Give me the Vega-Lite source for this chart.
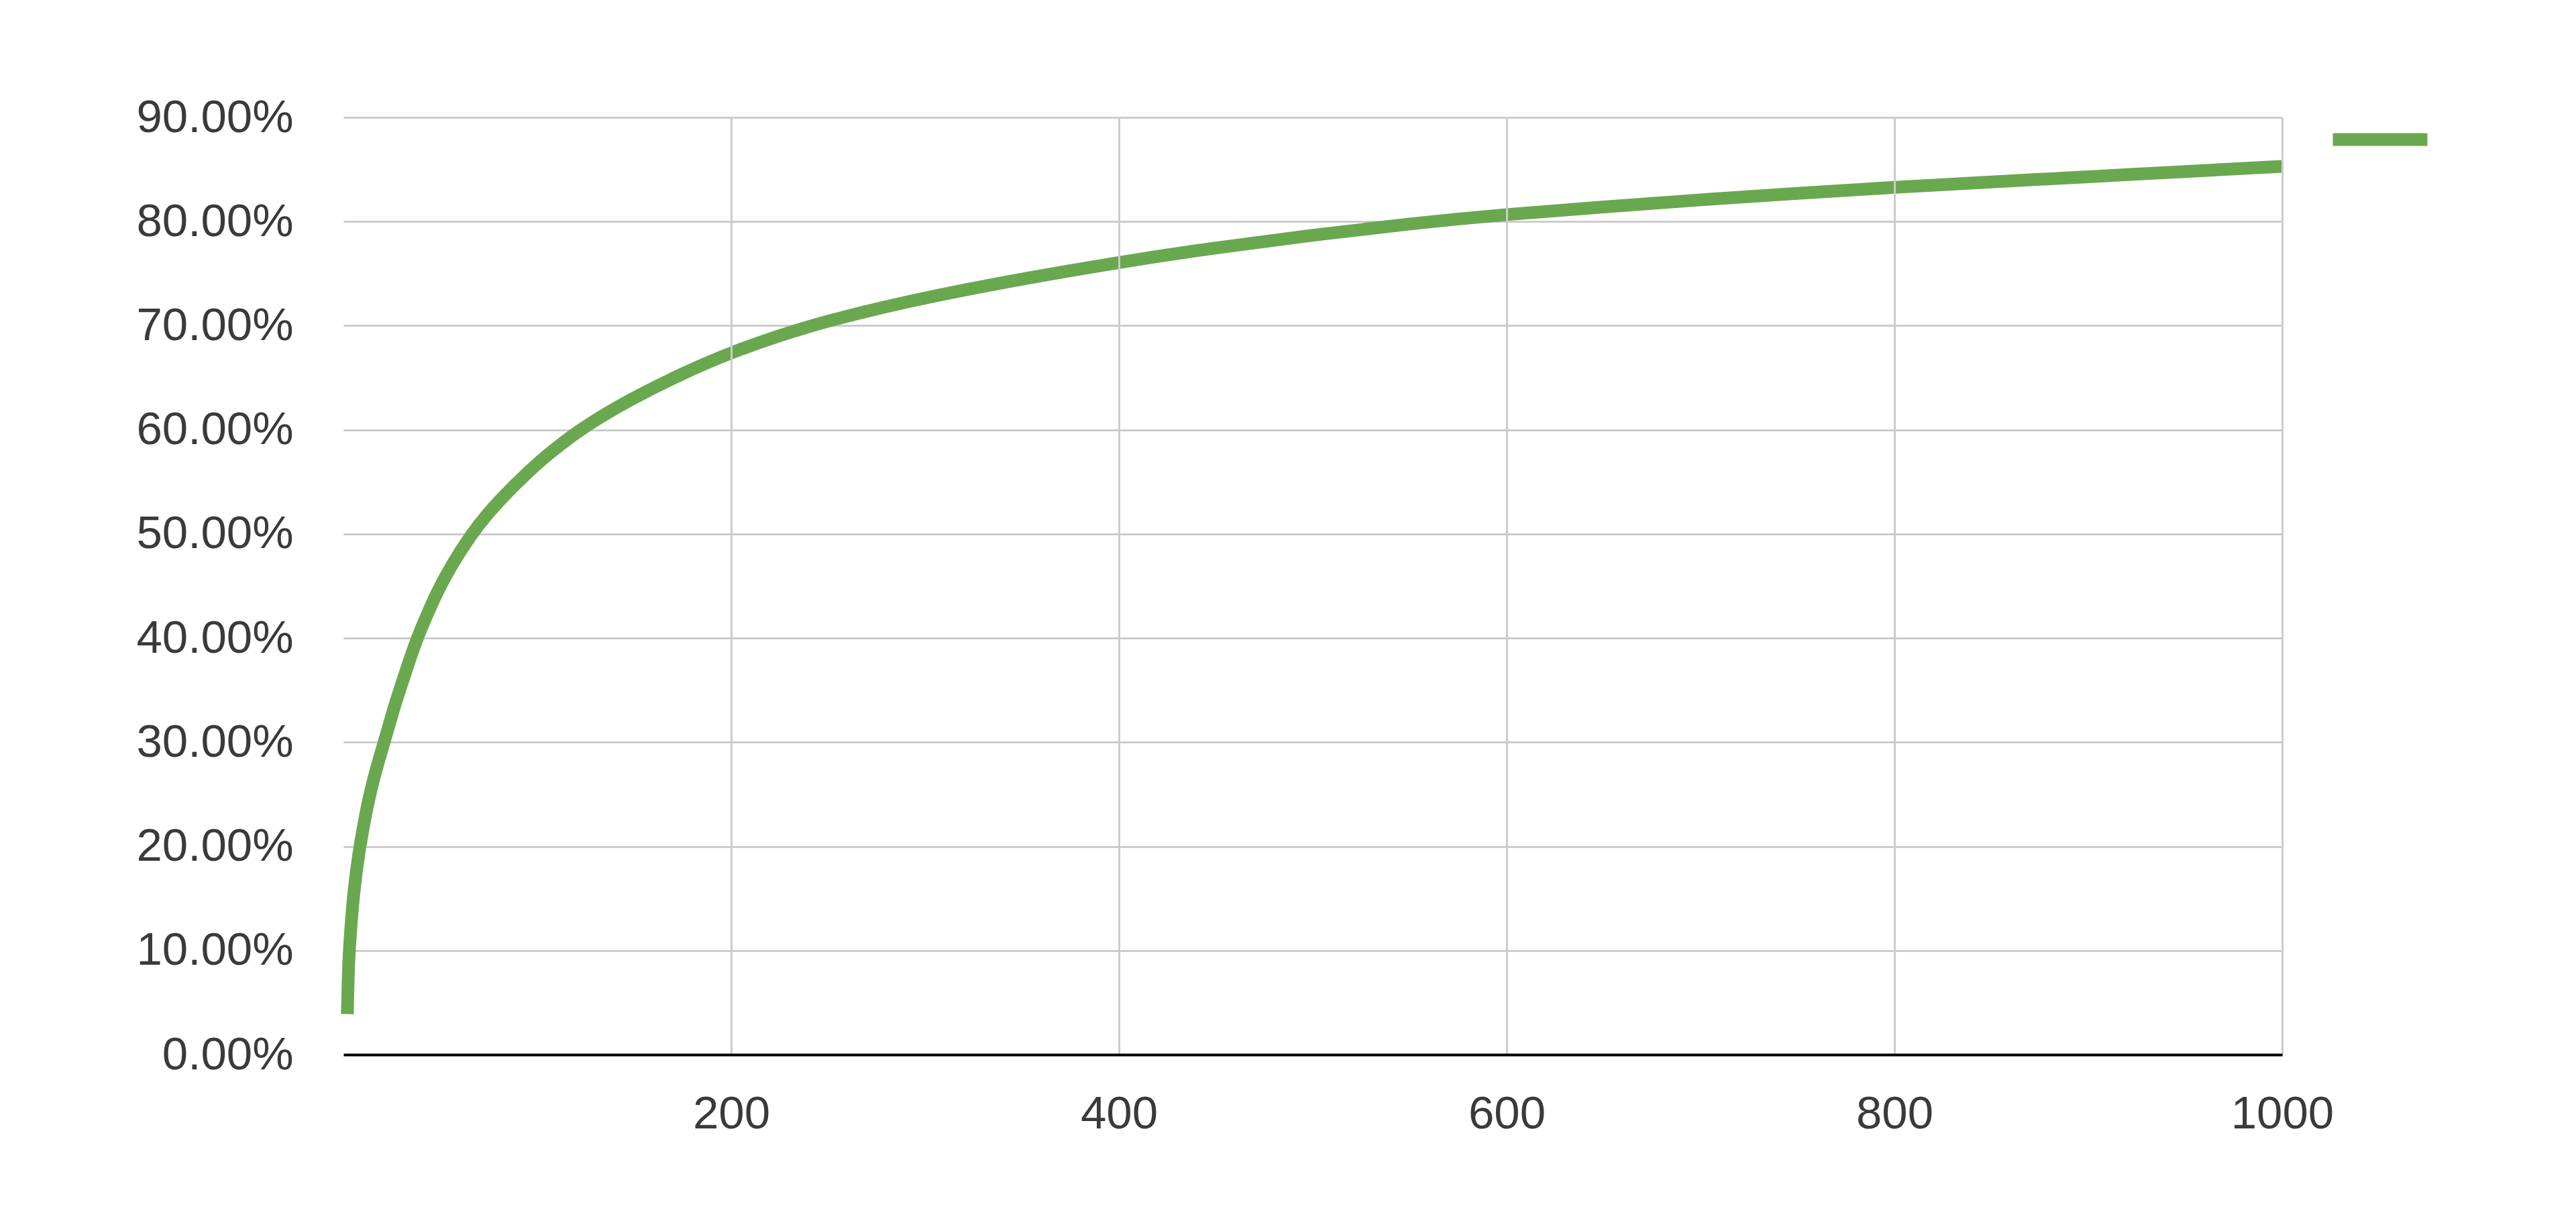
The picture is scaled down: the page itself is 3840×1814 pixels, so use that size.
{
  "$schema": "https://vega.github.io/schema/vega-lite/v6.json",
  "width": 2890,
  "height": 1397,
  "autosize": {"type": "none"},
  "padding": {"left": 512, "top": 175, "right": 438, "bottom": 242},
  "background": "white",
  "config": {
    "view": {"stroke": null},
    "font": "Liberation Sans",
    "axis": {
      "labelFont": "Liberation Sans",
      "labelFontSize": 69,
      "labelColor": "#3a3a3a",
      "labelLimit": 0,
      "gridColor": "#cccccc",
      "gridWidth": 3,
      "ticks": false,
      "title": null
    }
  },
  "data": {
    "values": [
      {"x": 2, "share": 0.039, "series": "s"},
      {"x": 2.5, "share": 0.080, "series": "s"},
      {"x": 3, "share": 0.100, "series": "s"},
      {"x": 4, "share": 0.127, "series": "s"},
      {"x": 5, "share": 0.149, "series": "s"},
      {"x": 6, "share": 0.166, "series": "s"},
      {"x": 7, "share": 0.181, "series": "s"},
      {"x": 8.5, "share": 0.200, "series": "s"},
      {"x": 10, "share": 0.216, "series": "s"},
      {"x": 12, "share": 0.236, "series": "s"},
      {"x": 14, "share": 0.253, "series": "s"},
      {"x": 17, "share": 0.275, "series": "s"},
      {"x": 21, "share": 0.300, "series": "s"},
      {"x": 26, "share": 0.333, "series": "s"},
      {"x": 29, "share": 0.350, "series": "s"},
      {"x": 33, "share": 0.373, "series": "s"},
      {"x": 38, "share": 0.400, "series": "s"},
      {"x": 43, "share": 0.422, "series": "s"},
      {"x": 48, "share": 0.443, "series": "s"},
      {"x": 55, "share": 0.468, "series": "s"},
      {"x": 66, "share": 0.500, "series": "s"},
      {"x": 75, "share": 0.521, "series": "s"},
      {"x": 85, "share": 0.541, "series": "s"},
      {"x": 100, "share": 0.568, "series": "s"},
      {"x": 110, "share": 0.583, "series": "s"},
      {"x": 122, "share": 0.600, "series": "s"},
      {"x": 135, "share": 0.615, "series": "s"},
      {"x": 146, "share": 0.627, "series": "s"},
      {"x": 170, "share": 0.650, "series": "s"},
      {"x": 200, "share": 0.675, "series": "s"},
      {"x": 240, "share": 0.700, "series": "s"},
      {"x": 270, "share": 0.714, "series": "s"},
      {"x": 300, "share": 0.727, "series": "s"},
      {"x": 350, "share": 0.745, "series": "s"},
      {"x": 400, "share": 0.761, "series": "s"},
      {"x": 450, "share": 0.775, "series": "s"},
      {"x": 500, "share": 0.787, "series": "s"},
      {"x": 550, "share": 0.798, "series": "s"},
      {"x": 600, "share": 0.807, "series": "s"},
      {"x": 650, "share": 0.814, "series": "s"},
      {"x": 700, "share": 0.821, "series": "s"},
      {"x": 750, "share": 0.827, "series": "s"},
      {"x": 800, "share": 0.833, "series": "s"},
      {"x": 850, "share": 0.838, "series": "s"},
      {"x": 900, "share": 0.843, "series": "s"},
      {"x": 950, "share": 0.848, "series": "s"},
      {"x": 1000, "share": 0.853, "series": "s"}
    ]
  },
  "mark": {"type": "line", "strokeWidth": 19, "interpolate": "basis", "strokeCap": "butt", "strokeJoin": "round"},
  "encoding": {
    "x": {
      "field": "x",
      "type": "quantitative",
      "scale": {"domain": [0, 1000], "nice": false, "zero": true},
      "axis": {
        "values": [200, 400, 600, 800, 1000],
        "format": "d",
        "grid": true,
        "domain": true,
        "domainColor": "#000000",
        "domainWidth": 4,
        "labelPadding": 54,
        "labelFlush": false,
        "zindex": 1
      }
    },
    "y": {
      "field": "share",
      "type": "quantitative",
      "scale": {"domain": [0, 0.9], "nice": false},
      "axis": {
        "values": [0, 0.1, 0.2, 0.3, 0.4, 0.5, 0.6, 0.7, 0.8, 0.9],
        "format": ".2%",
        "grid": true,
        "domain": false,
        "labelPadding": 75,
        "labelBaseline": "middle"
      }
    },
    "color": {
      "field": "series",
      "type": "nominal",
      "scale": {"range": ["#6aa84f"]},
      "legend": {
        "orient": "none",
        "legendX": 2956,
        "legendY": -47,
        "title": null,
        "padding": 0,
        "symbolType": "stroke",
        "symbolSize": 19881,
        "symbolStrokeWidth": 19,
        "labelExpr": "''",
        "labelFontSize": 10
      }
    }
  }
}
